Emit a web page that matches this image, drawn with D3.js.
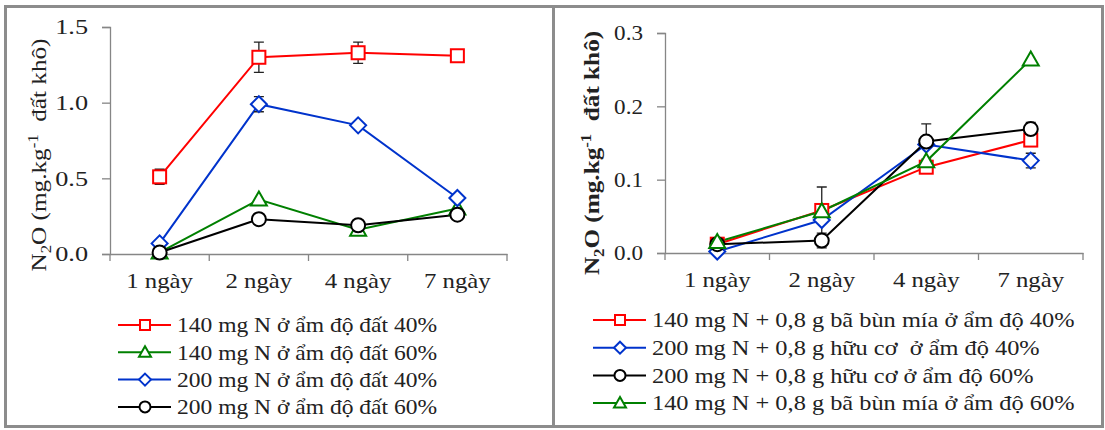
<!DOCTYPE html>
<html><head><meta charset="utf-8">
<script src="https://cdn.jsdelivr.net/npm/d3@7"></script>
<style>body{margin:0;background:#fff}svg{display:block}</style>
</head><body><svg id="c" width="1105" height="430" font-family="Liberation Serif"></svg>
<script>
const categories = ["1 ngày","2 ngày","4 ngày","7 ngày"];
// Left panel
const leftNames = ["140 mg N ở ẩm độ đất 40%","140 mg N ở ẩm độ đất 60%","200 mg N ở ẩm độ đất 40%","200 mg N ở ẩm độ đất 60%"];
const leftColors = ["#ff0000","#008000","#0033cc","#000000"];
const leftShapes = ["square","triangle","diamond","circle"];
const leftValues = [[0.51,1.30,1.33,1.31],[0.01,0.36,0.16,0.30],[0.07,0.99,0.85,0.37],[0.01,0.23,0.19,0.26]];
const leftErrors = [[0.05,0.10,0.07,0.02],[0,0,0,0],[0,0.05,0,0],[0,0,0,0]];
const leftTicks = [0,0.5,1.0,1.5];
// Right panel
const rightNames = ["140 mg N + 0,8 g bã bùn mía ở ẩm độ 40%","200 mg N + 0,8 g hữu cơ  ở ẩm độ 40%","200 mg N + 0,8 g hữu cơ ở ẩm độ 60%","140 mg N + 0,8 g bã bùn mía ở ẩm độ 60%"];
const rightColors = ["#ff0000","#0033cc","#000000","#008000"];
const rightShapes = ["square","diamond","circle","triangle"];
const rightValues = [[0.012,0.058,0.117,0.154],[0.002,0.045,0.148,0.126],[0.012,0.017,0.152,0.169],[0.015,0.057,0.125,0.264]];
const rightErrors = [[0,0,0.008,0],[0,0,0,0.01],[0,0.01,0.024,0.009],[0,0.033,0,0]];
const rightTicks = [0,0.1,0.2,0.3];

const FONT = "Liberation Serif";
const svg = d3.select("#c");
svg.append("rect").attr("x",5.5).attr("y",6.5).attr("width",1097).attr("height",420).attr("fill","none").attr("stroke","#8c8c8c").attr("stroke-width",3);
svg.append("line").attr("x1",553.5).attr("x2",553.5).attr("y1",6).attr("y2",427).attr("stroke","#8c8c8c").attr("stroke-width",3);

function stretch(sel,k){
  sel.each(function(){
    const w=this.getComputedTextLength();
    d3.select(this).attr("textLength",w*k).attr("lengthAdjust","spacingAndGlyphs");
  });
}
function marker(g, shape, x, y, color){
  const sw=2;
  if(shape==="square") g.append("rect").attr("x",x-6.5).attr("y",y-6.5).attr("width",13).attr("height",13).attr("fill","#fff").attr("stroke",color).attr("stroke-width",sw);
  else if(shape==="diamond") g.append("path").attr("d",`M${x},${y-8}L${x+8},${y}L${x},${y+8}L${x-8},${y}Z`).attr("fill","#fff").attr("stroke",color).attr("stroke-width",sw);
  else if(shape==="triangle") g.append("path").attr("d",`M${x},${y-8}L${x+8},${y+6}L${x-8},${y+6}Z`).attr("fill","#fff").attr("stroke",color).attr("stroke-width",sw);
  else g.append("circle").attr("cx",x).attr("cy",y).attr("r",7).attr("fill","#fff").attr("stroke",color).attr("stroke-width",sw);
}
function smallMarker(g, shape, x, y, color){
  if(shape==="square") g.append("rect").attr("x",x-5).attr("y",y-5).attr("width",10).attr("height",10).attr("fill","#fff").attr("stroke",color).attr("stroke-width",2);
  else if(shape==="diamond") g.append("path").attr("d",`M${x},${y-6}L${x+6},${y}L${x},${y+6}L${x-6},${y}Z`).attr("fill","#fff").attr("stroke",color).attr("stroke-width",2);
  else if(shape==="triangle") g.append("path").attr("d",`M${x},${y-6}L${x+6},${y+4.5}L${x-6},${y+4.5}Z`).attr("fill","#fff").attr("stroke",color).attr("stroke-width",2);
  else g.append("circle").attr("cx",x).attr("cy",y).attr("r",5.5).attr("fill","#fff").attr("stroke",color).attr("stroke-width",2);
}

function panel(o){
  const g = svg.append("g").attr("font-family",FONT);
  const x = d3.scaleBand().domain(categories).range([o.x0,o.x1]);
  const y = d3.scaleLinear().domain([0,o.ymax]).range([o.y0,o.y1]);
  const ax = g.append("g").attr("transform",`translate(0,${o.y0})`).call(d3.axisBottom(x).tickSize(0).tickFormat(d=>d));
  ax.attr("font-family",FONT);
  ax.select(".domain").attr("stroke","#868686").attr("stroke-width",1.3);
  ax.selectAll("text").attr("font-size",21).attr("y",34).attr("dy",0).attr("fill","#222");
  stretch(ax.selectAll("text"),1.18);
  const bounds = categories.map(c=>x(c)).concat([o.x1]);
  g.selectAll(".xt").data(bounds).enter().append("line").attr("x1",d=>d).attr("x2",d=>d).attr("y1",o.y0).attr("y2",o.y0+7).attr("stroke","#868686").attr("stroke-width",1.3);
  const ay = g.append("g").attr("transform",`translate(${o.x0},0)`).call(d3.axisLeft(y).tickValues(o.ticks).tickSize(8).tickFormat(o.fmt));
  ay.attr("font-family",FONT);
  ay.select(".domain").attr("stroke","#868686").attr("stroke-width",1.3);
  ay.selectAll(".tick line").attr("stroke","#868686").attr("stroke-width",1.3);
  ay.selectAll("text").attr("font-size",21).attr("x",-22).attr("fill","#222");
  stretch(ay.selectAll("text"),o.yk);
  // title
  const t = g.append("text").attr("transform",`translate(${o.tx},${o.tc}) rotate(-90) scale(1.2,1)`).attr("text-anchor","middle").attr("font-size",21).attr("fill","#222").attr("font-weight",o.bold?"bold":"normal");
  t.append("tspan").text("N");
  t.append("tspan").text("2").attr("font-size",14).attr("dy",5);
  t.append("tspan").text("O (mg.kg").attr("dy",-5);
  t.append("tspan").text("-1").attr("font-size",14).attr("dy",-8);
  t.append("tspan").text("\u00a0 đất khô)").attr("dy",8);
  const cx = c => x(c)+x.bandwidth()/2;
  const line = d3.line().x((d,i)=>cx(categories[i])).y(d=>y(d));
  o.values.forEach((vals,si)=>{
    g.append("path").attr("d",line(vals)).attr("fill","none").attr("stroke",o.colors[si]).attr("stroke-width",2);
  });
  o.values.forEach((vals,si)=>{
    vals.forEach((v,i)=>{
      const e=o.errors[si][i]; if(!e) return;
      const xx=cx(categories[i]);
      g.append("path").attr("d",`M${xx},${y(v-e)}V${y(v+e)}M${xx-5},${y(v-e)}H${xx+5}M${xx-5},${y(v+e)}H${xx+5}`).attr("stroke","#222").attr("stroke-width",1.3).attr("fill","none");
    });
  });
  o.values.forEach((vals,si)=>{
    vals.forEach((v,i)=>marker(g,o.shapes[si],cx(categories[i]),y(v),o.colors[si]));
  });
  o.names.forEach((n,i)=>{
    const ly = o.ly + i*o.lstep;
    g.append("line").attr("x1",o.lx).attr("x2",o.lx+53).attr("y1",ly).attr("y2",ly).attr("stroke",o.colors[i]).attr("stroke-width",2);
    smallMarker(g,o.shapes[i],o.lx+27,ly,o.colors[i]);
    const tx = g.append("text").attr("x",o.lx+o.tgap).attr("y",ly).attr("dy","0.35em").attr("font-size",21).attr("fill","#222").style("white-space","pre").text(n);
    stretch(tx,o.lk);
  });
}
panel({x0:110,x1:507,y0:254,y1:27,ymax:1.5,ticks:leftTicks,fmt:d3.format(".1f"),yk:1.25,tx:46,tc:155,bold:false,
  names:leftNames,colors:leftColors,shapes:leftShapes,values:leftValues,errors:leftErrors,lx:118,ly:325,lstep:27.3,tgap:59,lk:1.12});
panel({x0:665,x1:1083,y0:253,y1:33,ymax:0.3,ticks:rightTicks,fmt:d3.format(".1f"),yk:1.1,tx:599,tc:153,bold:true,
  names:rightNames,colors:rightColors,shapes:rightShapes,values:rightValues,errors:rightErrors,lx:593,ly:320,lstep:27.7,tgap:59,lk:1.16});
</script></body></html>
